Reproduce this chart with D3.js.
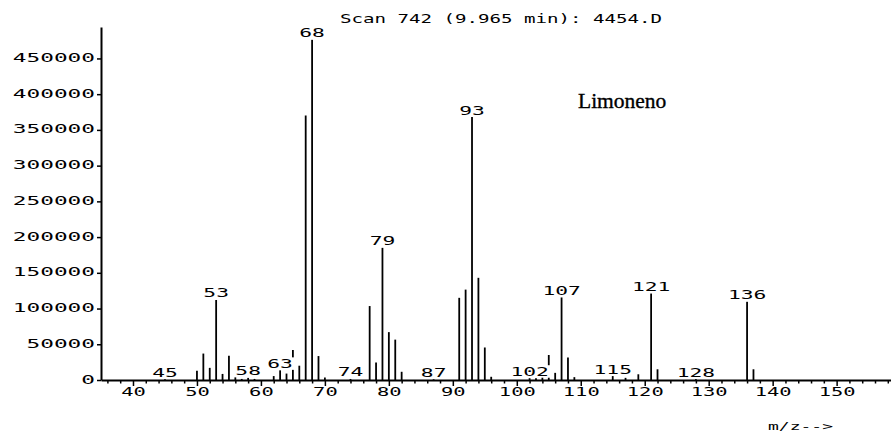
<!DOCTYPE html>
<html>
<head>
<meta charset="utf-8">
<script src="https://cdn.jsdelivr.net/npm/d3@7"></script>
<style>
  html, body { margin: 0; padding: 0; background: #fff; }
  svg { display: block; }
</style>
</head>
<body>
<svg id="chart" width="891" height="432"></svg>
<script>
// Mass spectrum of limonene: m/z and abundance of each ion
const masses = [45, 50, 51, 52, 53, 54, 55, 56, 57, 58, 59, 62, 63, 64, 65, 66, 67, 68, 69, 70,
  74, 77, 78, 79, 80, 81, 82, 87, 91, 92, 93, 94, 95, 96,
  102, 103, 104, 105, 106, 107, 108, 109, 115, 117, 119, 121, 122, 128, 136, 137];
const abundances = [1200, 13000, 37000, 17000, 112000, 8500, 34000, 4500, 1500, 3000, 1500, 5500, 13500, 9000, 42000, 20000, 370000, 476000, 33500, 3500,
  1500, 103500, 24500, 185000, 67000, 56500, 11500, 1000, 115000, 126500, 368000, 143000, 45500, 4500,
  2500, 2500, 7000, 35000, 10000, 115500, 31500, 4000, 5500, 3000, 8000, 121000, 15000, 1200, 109500, 15000];
// ions whose m/z is printed above the line
const labeledMasses = [45, 53, 58, 63, 68, 74, 79, 87, 93, 102, 107, 115, 121, 128, 136];
const yTickValues = [0, 50000, 100000, 150000, 200000, 250000, 300000, 350000, 400000, 450000];
const xTickValues = [40, 50, 60, 70, 80, 90, 100, 110, 120, 130, 140, 150];
const titleText = "Scan 742 (9.965 min): 4454.D";
const compoundName = "Limoneno";
const xAxisName = "m/z-->";

const mono = "'DejaVu Sans Mono', 'Liberation Mono', monospace";
const svg = d3.select("#chart");

const x = d3.scaleLinear().domain([35, 158.5]).range([101, 891]);
const y = d3.scaleLinear().domain([0, 494000]).range([380, 27]);

const peaks = masses.map((m, i) => ({ m, v: abundances[i] }));

// spectrum lines
svg.append("g")
  .selectAll("line")
  .data(peaks)
  .join("line")
  .attr("x1", d => x(d.m)).attr("x2", d => x(d.m))
  .attr("y1", y(0)).attr("y2", d => y(d.v))
  .attr("stroke", "#000")
  .attr("stroke-width", 1.8);

// m/z labels over the peaks, each on an opaque patch
const labelW = 12.8;
const lbl = svg.append("g")
  .selectAll("g")
  .data(peaks.filter(d => labeledMasses.includes(d.m)))
  .join("g")
  .attr("transform", d => `translate(${x(d.m)},${y(d.v) - 2.5})`);
lbl.append("rect")
  .attr("x", d => -String(d.m).length * labelW / 2 - 3.5)
  .attr("y", -10.5)
  .attr("width", d => String(d.m).length * labelW + 7)
  .attr("height", 12.5)
  .attr("fill", "#fff");
lbl.append("text")
  .attr("text-anchor", "middle")
  .attr("font-family", mono)
  .attr("font-size", 12)
  .attr("textLength", d => String(d.m).length * labelW)
  .attr("lengthAdjust", "spacingAndGlyphs")
  .text(d => d.m);

// y axis
const yAxis = svg.append("g")
  .attr("transform", `translate(${x(35)},0)`)
  .call(d3.axisLeft(y).tickValues(yTickValues).tickSize(4).tickSizeOuter(0).tickPadding(2)
    .tickFormat(d3.format("d")));
yAxis.select(".domain").attr("stroke-width", 2);
yAxis.selectAll(".tick line").attr("stroke-width", 1.5);
yAxis.selectAll("text")
  .attr("font-family", mono).attr("font-size", 12).attr("fill", "#000")
  .attr("dy", "0.25em")
  .attr("textLength", d => String(d).length * 13.7)
  .attr("lengthAdjust", "spacingAndGlyphs");

// x axis: minor ticks every 2 units
const minorTicks = d3.range(36, 159, 2).filter(v => v % 10 !== 0);
svg.append("g")
  .attr("transform", `translate(0,${y(0)})`)
  .call(d3.axisBottom(x).tickValues(minorTicks).tickSize(3.5).tickSizeOuter(0).tickFormat(""))
  .call(g => g.select(".domain").remove())
  .selectAll(".tick line").attr("stroke-width", 1.5);

// x axis: labelled ticks
const xAxis = svg.append("g")
  .attr("transform", `translate(0,${y(0)})`)
  .call(d3.axisBottom(x).tickValues(xTickValues).tickSize(6).tickSizeOuter(0).tickPadding(1));
xAxis.select(".domain").attr("stroke-width", 2);
xAxis.selectAll(".tick line").attr("stroke-width", 1.5);
xAxis.selectAll("text")
  .attr("font-family", mono).attr("font-size", 12).attr("fill", "#000")
  .attr("textLength", d => String(d).length * 12.3)
  .attr("lengthAdjust", "spacingAndGlyphs");

// title
svg.append("text")
  .attr("x", 501).attr("y", 23)
  .attr("text-anchor", "middle")
  .attr("font-family", mono).attr("font-size", 12)
  .attr("textLength", 322).attr("lengthAdjust", "spacingAndGlyphs")
  .text(titleText);

// compound name
svg.append("text")
  .attr("x", 578).attr("y", 108)
  .attr("font-family", "'Liberation Serif', 'Times New Roman', serif")
  .attr("font-size", 21.5)
  .attr("stroke", "#000").attr("stroke-width", 0.35)
  .text(compoundName);

// x axis name
svg.append("text")
  .attr("x", 768).attr("y", 430)
  .attr("font-family", mono).attr("font-size", 11)
  .attr("textLength", 65).attr("lengthAdjust", "spacingAndGlyphs")
  .text(xAxisName);
</script>
</body>
</html>
